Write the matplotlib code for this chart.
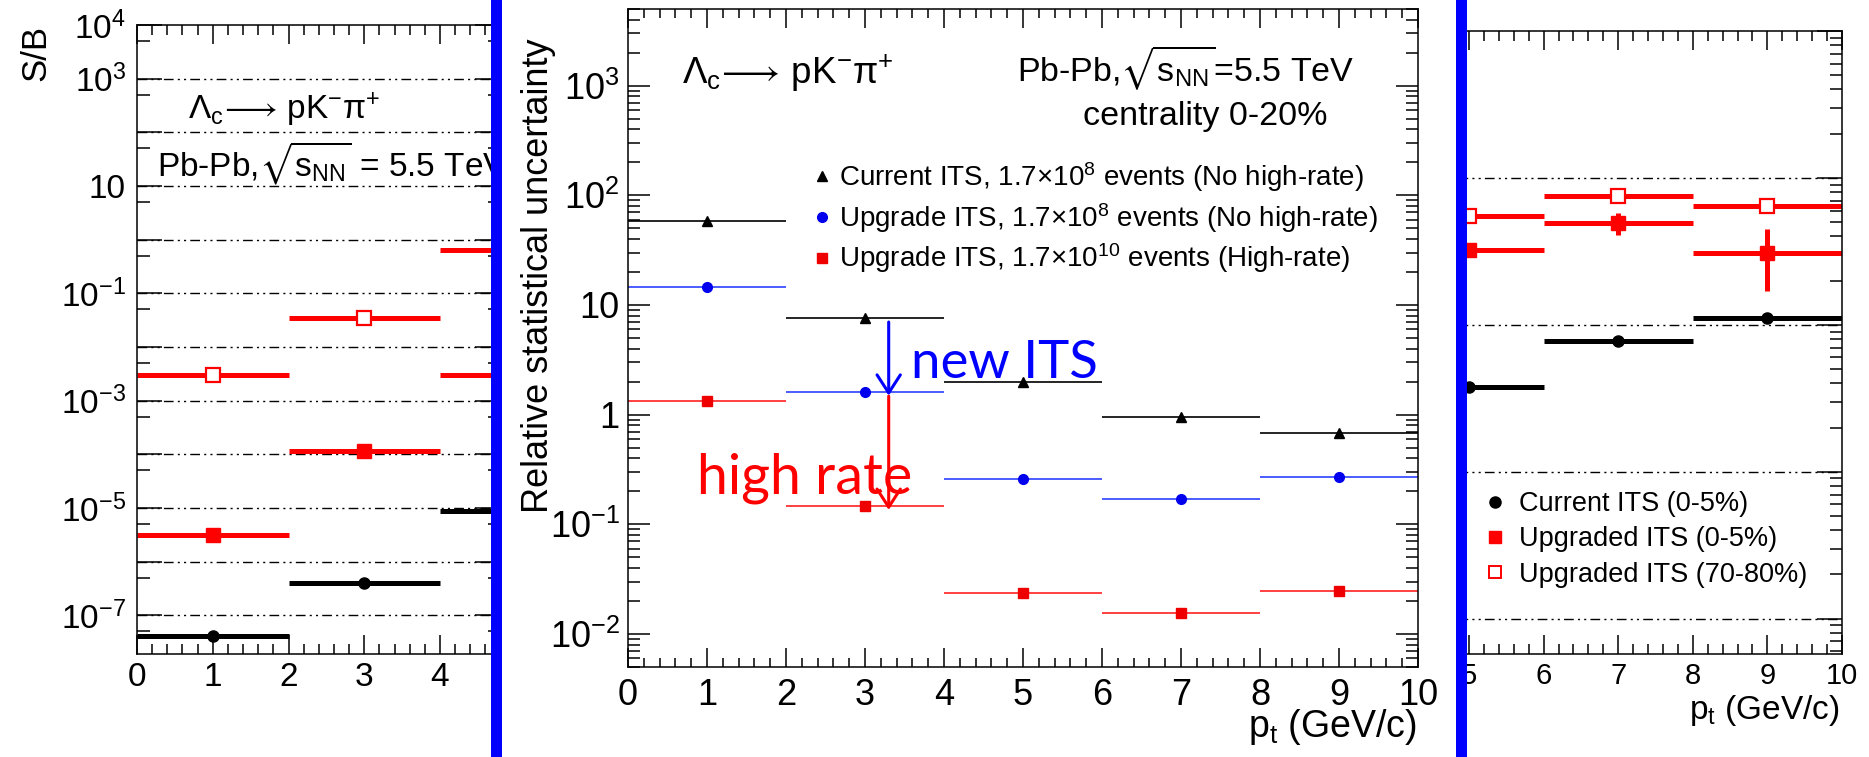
import matplotlib
matplotlib.use('Agg')
import matplotlib.pyplot as plt
from matplotlib.lines import Line2D
from matplotlib.patches import Rectangle

plt.rcParams['font.family'] = ['Liberation Sans', 'DejaVu Sans']
plt.rcParams['mathtext.fontset'] = 'custom'
plt.rcParams['mathtext.rm'] = 'Liberation Sans'
plt.rcParams['mathtext.it'] = 'Liberation Sans:italic'
plt.rcParams['mathtext.bf'] = 'Liberation Sans:bold'
plt.rcParams['mathtext.sf'] = 'Liberation Sans'
plt.rcParams['mathtext.fallback'] = 'stix'

# pt bins (GeV/c), 2 GeV wide
pt_centres = [1, 3, 5, 7, 9]
pt_halfwidth = 1.0

# relative statistical uncertainty, Pb-Pb 0-20%
unc_current = [58, 7.6, 2.0, 0.96, 0.68]
unc_upgrade = [14.6, 1.6, 0.258, 0.169, 0.27]
unc_highrate = [1.32, 0.147, 0.0235, 0.0155, 0.0245]

# S/B, low pt bins
sb_pt = [1, 3, 5]
sb_current = [4.2e-8, 4.0e-7, 8.7e-6]
sb_upg_central = [3.2e-6, 1.17e-4, 2.95e-3]
sb_upg_periph = [2.95e-3, 3.4e-2, 0.65]

# high pt bins
hi_pt = [5, 7, 9]
hi_current = [38, 78, 112]
hi_upg_central = [324, 490, 309]
hi_upg_central_lo = [0, 83, 139]
hi_upg_central_hi = [0, 85, 138]
hi_upg_periph = [550, 759, 646]

W, H = 1869, 757
fig = plt.figure(figsize=(W / 100, H / 100), dpi=100)
fig.patch.set_facecolor('white')


def fx(px):
    return px / W


def fy(py):
    return 1 - py / H


def add_px_axes(x0, y0, x1, y1):
    return fig.add_axes([fx(x0), fy(y1), (x1 - x0) / W, (y1 - y0) / H])


grid_ls = (0, (7, 3, 1.5, 3, 1.5, 3))
decay = r'$\mathrm{\Lambda_{c}\!\longrightarrow\,pK^{-}\pi^{+}}$'


def root_style(ax):
    for s in ax.spines.values():
        s.set_linewidth(1.1)
    ax.tick_params(which='both', direction='in', top=True, right=True, width=1.1)


def decade_label(e):
    if e == 0:
        return '1'
    if e == 1:
        return '10'
    return r'$10^{%d}$' % e


# ---- S/B, left part ----
axL = add_px_axes(137, 25, 500, 654)
root_style(axL)
axL.set_yscale('log')
axL.set_xlim(0, 363 / 75.75)
axL.set_ylim(1.9e-8, 1e4)
axL.errorbar(sb_pt, sb_current, xerr=pt_halfwidth, fmt='o', color='black',
             ms=8, lw=3.6, capsize=0)
axL.errorbar(sb_pt, sb_upg_central, xerr=pt_halfwidth, fmt='s', color='red',
             ms=9.5, lw=3.6, capsize=0)
axL.errorbar(sb_pt, sb_upg_periph, xerr=pt_halfwidth, fmt='s', color='red',
             mfc='white', mec='red', mew=1.6, ms=9.5, lw=3.6, capsize=0)
decL = list(range(-7, 5))
axL.set_yticks([10.0 ** e for e in decL])
axL.set_yticklabels([decade_label(e) if e in (4, 3, 1, -1, -3, -5, -7) else ''
                     for e in decL])
axL.set_yticks([5 * 10.0 ** e for e in range(-8, 4)], minor=True)
axL.set_yticklabels([], minor=True)
axL.set_xticks([0, 1, 2, 3, 4])
axL.set_xticks([i * 0.2 for i in range(24)], minor=True)
axL.tick_params(axis='y', which='major', length=18, labelsize=24, pad=8)
axL.tick_params(axis='y', which='minor', length=9)
axL.tick_params(axis='x', which='major', length=14, labelsize=24, pad=6)
axL.tick_params(axis='x', which='minor', length=7)
for e in range(-7, 4):
    axL.axhline(10.0 ** e, color='black', lw=1.0, ls=grid_ls, zorder=0)
axL.text(0.14, 0.865, decay, transform=axL.transAxes, fontsize=24,
         va='center', clip_on=True)
axL.text(0.055, 0.78, r'Pb-Pb,$\sqrt{\mathrm{s}_{\mathrm{NN}}}$ = 5.5 TeV',
         transform=axL.transAxes, fontsize=24, va='center', clip_on=True)
fig.text(fx(36), fy(53), 'S/B', rotation=90, ha='center', va='center', fontsize=25)

# ---- S/B, high pt part ----
axR = add_px_axes(1458, 31, 1842, 654)
root_style(axR)
axR.set_yscale('log')
axR.set_xlim(5 - 11 / 74.4, 10)
axR.set_ylim(0.575, 1e4)
axR.errorbar(hi_pt, hi_current, xerr=pt_halfwidth, fmt='o', color='black',
             ms=8, lw=3.6, capsize=0)
axR.errorbar(hi_pt, hi_upg_central, xerr=pt_halfwidth,
             yerr=[hi_upg_central_lo, hi_upg_central_hi], fmt='s', color='red',
             ms=9.5, lw=3.6, capsize=0)
axR.errorbar(hi_pt, hi_upg_periph, xerr=pt_halfwidth, fmt='s', color='red',
             mfc='white', mec='red', mew=1.6, ms=9.5, lw=3.6, capsize=0)
axR.set_xticks([5, 6, 7, 8, 9, 10])
axR.set_xticks([5 + i * 0.2 for i in range(26)], minor=True)
axR.tick_params(axis='x', which='major', length=14, labelsize=21, pad=6)
axR.tick_params(axis='x', which='minor', length=7)
axR.tick_params(axis='y', left=False, labelleft=False, which='both')
axR.tick_params(axis='y', which='major', length=18)
axR.tick_params(axis='y', which='minor', length=9)
for e in range(0, 4):
    axR.axhline(10.0 ** e, color='black', lw=1.0, ls=grid_ls, zorder=0)
axR.legend(handles=[
    Line2D([], [], marker='o', ls='none', color='black', ms=8),
    Line2D([], [], marker='s', ls='none', color='red', ms=8),
    Line2D([], [], marker='s', ls='none', mfc='white', mec='red', mew=1.4, ms=8)],
    labels=['Current ITS (0-5%)', 'Upgraded ITS (0-5%)', 'Upgraded ITS (70-80%)'],
    loc='upper left', bbox_to_anchor=(fx(1484), fy(491)),
    bbox_transform=fig.transFigure, frameon=False, fontsize=19.5,
    handlelength=0.8, handletextpad=0.5, labelspacing=0.35,
    borderpad=0, borderaxespad=0)
fig.text(fx(1840), fy(711), r'p$_{\mathrm{t}}$ (GeV/c)', ha='right', va='center',
         fontsize=24)

# ---- relative statistical uncertainty ----
axM = add_px_axes(628, 9, 1418, 667)
root_style(axM)
axM.set_yscale('log')
axM.set_xlim(0, 10)
axM.set_ylim(0.005, 5000)
axM.errorbar(pt_centres, unc_current, xerr=pt_halfwidth, fmt='^', color='black',
             ms=7, lw=1.2, capsize=0)
axM.errorbar(pt_centres, unc_upgrade, xerr=pt_halfwidth, fmt='o', color='#0000ee',
             ecolor='#4a5cff', ms=7, lw=1.4, capsize=0)
axM.errorbar(pt_centres, unc_highrate, xerr=pt_halfwidth, fmt='s', color='#ee0000',
             ecolor='#ff4040', ms=6.5, lw=1.4, capsize=0)
decM = list(range(-2, 4))
axM.set_yticks([10.0 ** e for e in decM])
axM.set_yticklabels([decade_label(e) for e in decM])
axM.set_yticks([m * 10.0 ** e for e in range(-3, 4) for m in range(2, 10)
                if 0.005 <= m * 10.0 ** e <= 5000], minor=True)
axM.set_yticklabels([], minor=True)
axM.set_xticks(range(11))
axM.set_xticks([i * 0.2 for i in range(51)], minor=True)
axM.tick_params(axis='y', which='major', length=16, labelsize=26, pad=6)
axM.tick_params(axis='y', which='minor', length=8.5)
axM.tick_params(axis='x', which='major', length=14, labelsize=26, pad=8)
axM.tick_params(axis='x', which='minor', length=6.5)

fig.text(fx(682), fy(73), decay, fontsize=26.5, va='center')
fig.text(fx(1017), fy(68), r'Pb-Pb,$\sqrt{\mathrm{s}_{\mathrm{NN}}}$=5.5 TeV',
         fontsize=24.5, va='center')
fig.text(fx(1083), fy(117), 'centrality 0-20%', fontsize=24.5, va='center')
axM.legend(handles=[
    Line2D([], [], marker='^', ls='none', color='black', ms=7),
    Line2D([], [], marker='o', ls='none', color='#0000ee', ms=7),
    Line2D([], [], marker='s', ls='none', color='#ee0000', ms=6.5)],
    labels=[r'Current ITS, 1.7$\times$10$^{8}$ events (No high-rate)',
            r'Upgrade ITS, 1.7$\times$10$^{8}$ events (No high-rate)',
            r'Upgrade ITS, 1.7$\times$10$^{10}$ events (High-rate)'],
    loc='upper left', bbox_to_anchor=(fx(814), fy(160)),
    bbox_transform=fig.transFigure, frameon=False, fontsize=20,
    handlelength=0.6, handletextpad=0.3, labelspacing=0.25,
    borderpad=0, borderaxespad=0)
fig.text(fx(538), fy(513), 'Relative statistical uncertainty', rotation=90,
         ha='center', va='bottom', fontsize=26)
fig.text(fx(1417), fy(727), r'p$_{\mathrm{t}}$ (GeV/c)', ha='right', va='center',
         fontsize=27)

# arrows: gain from the new ITS, then from the high rate
x_arr = 3.3
axM.annotate('', xy=(x_arr, unc_upgrade[1] * 0.93), xytext=(x_arr, unc_current[1] * 0.92),
             arrowprops=dict(arrowstyle='->,head_length=0.65,head_width=0.42',
                             color='#0000ff', lw=2.2, mutation_scale=20,
                             shrinkA=0, shrinkB=0))
axM.annotate('', xy=(x_arr, unc_highrate[1] * 0.92), xytext=(x_arr, unc_upgrade[1] * 0.92),
             arrowprops=dict(arrowstyle='->,head_length=0.65,head_width=0.42',
                             color='#ff0000', lw=2.2, mutation_scale=20,
                             shrinkA=0, shrinkB=0))
fig.text(fx(911), fy(363), 'new ITS', color='#0000ff', fontsize=38,
         family='Lato', va='center')
fig.text(fx(697), fy(493), 'high rate', color='#ff0000', fontsize=40,
         family='Lato', va='baseline')

# blue separators
for x0 in (491, 1456):
    fig.patches.append(Rectangle((fx(x0), 0), 11 / W, 1, transform=fig.transFigure,
                                 facecolor='#0000ff', edgecolor='none', zorder=10))

fig.savefig('out.png', dpi=100)
